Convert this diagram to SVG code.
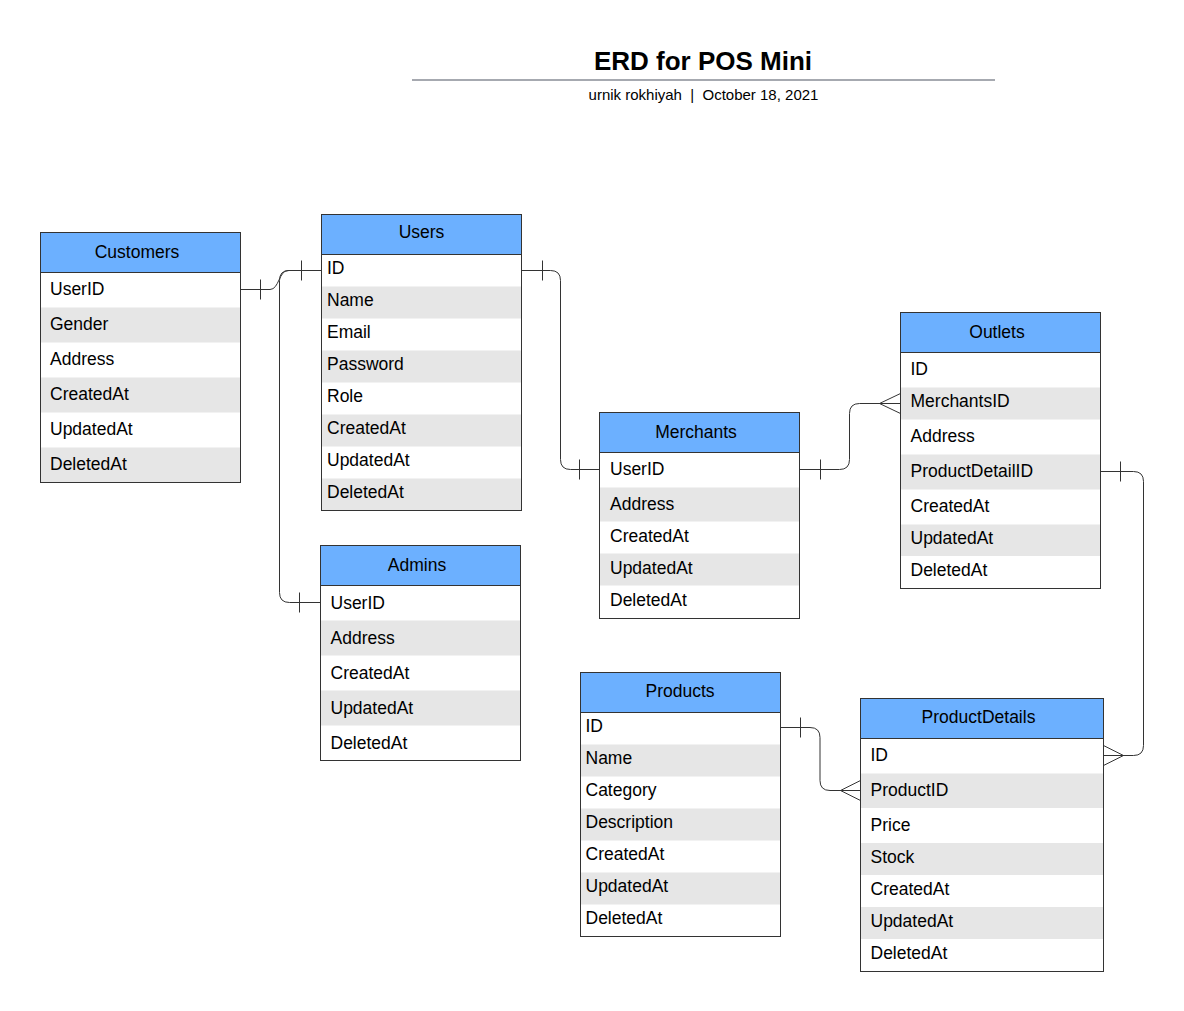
<svg xmlns="http://www.w3.org/2000/svg" width="1184" height="1011" viewBox="0 0 1184 1011">
<style>
  text { font-family: "Liberation Sans", Arial, sans-serif; fill: #000; }
  .t { font-size: 17.5px; }
  .h { font-size: 17.5px; text-anchor: middle; }
  .bg { fill: #ffffff; }
  .alt { fill: #e6e6e6; }
  .hdr { fill: #6cb0ff; stroke: #333333; stroke-width: 1; }
  .frame { fill: none; stroke: #333333; stroke-width: 1; }
  .conn path { fill: none; stroke: #333333; stroke-width: 1; }
</style>
<rect x="0" y="0" width="1184" height="1011" fill="#ffffff"/>

<g id="title">
  <text x="703" y="70" style="font-size:26px;font-weight:bold" text-anchor="middle">ERD for POS Mini</text>
  <line x1="412" y1="80" x2="995" y2="80" stroke="#a6a9b0" stroke-width="2"/>
  <text x="703.5" y="100" style="font-size:15px" text-anchor="middle">urnik rokhiyah &#160;|&#160; October 18, 2021</text>
</g>

<g id="customers">
  <rect class="bg" x="40.5" y="272.5" width="200" height="210"/>
  <rect class="alt" x="40.5" y="307.5" width="200" height="35"/>
  <rect class="alt" x="40.5" y="377.5" width="200" height="35"/>
  <rect class="alt" x="40.5" y="447.5" width="200" height="35"/>
  <rect class="hdr" x="40.5" y="232.5" width="200" height="40"/>
  <rect class="frame" x="40.5" y="232.5" width="200" height="250"/>
  <text class="h" x="137" y="257.5">Customers</text>
  <text class="t" x="50" y="295">UserID</text>
  <text class="t" x="50" y="330">Gender</text>
  <text class="t" x="50" y="365">Address</text>
  <text class="t" x="50" y="400">CreatedAt</text>
  <text class="t" x="50" y="435">UpdatedAt</text>
  <text class="t" x="50" y="470">DeletedAt</text>
</g>

<g id="users">
  <rect class="bg" x="321.5" y="254.5" width="200" height="256"/>
  <rect class="alt" x="321.5" y="286.5" width="200" height="32"/>
  <rect class="alt" x="321.5" y="350.5" width="200" height="32"/>
  <rect class="alt" x="321.5" y="414.5" width="200" height="32"/>
  <rect class="alt" x="321.5" y="478.5" width="200" height="32"/>
  <rect class="hdr" x="321.5" y="214.5" width="200" height="40"/>
  <rect class="frame" x="321.5" y="214.5" width="200" height="296"/>
  <text class="h" x="421.5" y="237.5">Users</text>
  <text class="t" x="327" y="273.5">ID</text>
  <text class="t" x="327" y="305.5">Name</text>
  <text class="t" x="327" y="337.5">Email</text>
  <text class="t" x="327" y="369.5">Password</text>
  <text class="t" x="327" y="401.5">Role</text>
  <text class="t" x="327" y="433.5">CreatedAt</text>
  <text class="t" x="327" y="465.5">UpdatedAt</text>
  <text class="t" x="327" y="497.5">DeletedAt</text>
</g>

<g id="admins">
  <rect class="bg" x="320.5" y="585.5" width="200" height="175"/>
  <rect class="alt" x="320.5" y="620.5" width="200" height="35"/>
  <rect class="alt" x="320.5" y="690.5" width="200" height="35"/>
  <rect class="hdr" x="320.5" y="545.5" width="200" height="40"/>
  <rect class="frame" x="320.5" y="545.5" width="200" height="215"/>
  <text class="h" x="417" y="570.5">Admins</text>
  <text class="t" x="330.5" y="608.5">UserID</text>
  <text class="t" x="330.5" y="643.5">Address</text>
  <text class="t" x="330.5" y="678.5">CreatedAt</text>
  <text class="t" x="330.5" y="713.5">UpdatedAt</text>
  <text class="t" x="330.5" y="748.5">DeletedAt</text>
</g>

<g id="merchants">
  <rect class="bg" x="599.5" y="452.5" width="200" height="166"/>
  <rect class="alt" x="599.5" y="487.5" width="200" height="34"/>
  <rect class="alt" x="599.5" y="553.5" width="200" height="32"/>
  <rect class="hdr" x="599.5" y="412.5" width="200" height="40"/>
  <rect class="frame" x="599.5" y="412.5" width="200" height="206"/>
  <text class="h" x="696" y="437.5">Merchants</text>
  <text class="t" x="610" y="475">UserID</text>
  <text class="t" x="610" y="509.5">Address</text>
  <text class="t" x="610" y="541.5">CreatedAt</text>
  <text class="t" x="610" y="573.5">UpdatedAt</text>
  <text class="t" x="610" y="605.5">DeletedAt</text>
</g>

<g id="outlets">
  <rect class="bg" x="900.5" y="352.5" width="200" height="236"/>
  <rect class="alt" x="900.5" y="387.5" width="200" height="32"/>
  <rect class="alt" x="900.5" y="454.5" width="200" height="35"/>
  <rect class="alt" x="900.5" y="524.5" width="200" height="31.5"/>
  <rect class="hdr" x="900.5" y="312.5" width="200" height="40"/>
  <rect class="frame" x="900.5" y="312.5" width="200" height="276"/>
  <text class="h" x="997" y="337.5">Outlets</text>
  <text class="t" x="910.5" y="375">ID</text>
  <text class="t" x="910.5" y="406.5">MerchantsID</text>
  <text class="t" x="910.5" y="441.5">Address</text>
  <text class="t" x="910.5" y="476.5">ProductDetailID</text>
  <text class="t" x="910.5" y="511.5">CreatedAt</text>
  <text class="t" x="910.5" y="543.5">UpdatedAt</text>
  <text class="t" x="910.5" y="575.5">DeletedAt</text>
</g>

<g id="products">
  <rect class="bg" x="580.5" y="712.5" width="200" height="224"/>
  <rect class="alt" x="580.5" y="744.5" width="200" height="32"/>
  <rect class="alt" x="580.5" y="808.5" width="200" height="32"/>
  <rect class="alt" x="580.5" y="872.5" width="200" height="32"/>
  <rect class="hdr" x="580.5" y="672.5" width="200" height="40"/>
  <rect class="frame" x="580.5" y="672.5" width="200" height="264"/>
  <text class="h" x="680" y="696.5">Products</text>
  <text class="t" x="585.5" y="731.5">ID</text>
  <text class="t" x="585.5" y="763.5">Name</text>
  <text class="t" x="585.5" y="795.5">Category</text>
  <text class="t" x="585.5" y="827.5">Description</text>
  <text class="t" x="585.5" y="859.5">CreatedAt</text>
  <text class="t" x="585.5" y="891.5">UpdatedAt</text>
  <text class="t" x="585.5" y="923.5">DeletedAt</text>
</g>

<g id="productdetails">
  <rect class="bg" x="860.5" y="738.5" width="243" height="233"/>
  <rect class="alt" x="860.5" y="773.5" width="243" height="34.5"/>
  <rect class="alt" x="860.5" y="843" width="243" height="32"/>
  <rect class="alt" x="860.5" y="907" width="243" height="32"/>
  <rect class="hdr" x="860.5" y="698.5" width="243" height="40"/>
  <rect class="frame" x="860.5" y="698.5" width="243" height="273"/>
  <text class="h" x="978.5" y="723">ProductDetails</text>
  <text class="t" x="870.5" y="760.5">ID</text>
  <text class="t" x="870.5" y="796">ProductID</text>
  <text class="t" x="870.5" y="830.5">Price</text>
  <text class="t" x="870.5" y="862.5">Stock</text>
  <text class="t" x="870.5" y="895">CreatedAt</text>
  <text class="t" x="870.5" y="926.5">UpdatedAt</text>
  <text class="t" x="870.5" y="959">DeletedAt</text>
</g>

<g id="connectors" class="conn">
  <!-- Customers.UserID - Users.ID -->
  <path d="M240.5,289.5 H270 C279,289.5 279,270.5 288,270.5 H321.5"/>
  <path d="M260.5,279.5 V299.5"/>
  <path d="M301.5,260.5 V280.5"/>
  <!-- Users.ID - Admins.UserID -->
  <path d="M321.5,270.5 H289 Q279.5,270.5 279.5,280.5 V592.5 Q279.5,602.5 289.5,602.5 H320.5"/>
  <path d="M299.5,592.5 V612.5"/>
  <!-- Users.ID - Merchants.UserID -->
  <path d="M521.5,270.5 H550.5 Q560.5,270.5 560.5,280.5 V459.5 Q560.5,469.5 570.5,469.5 H599.5"/>
  <path d="M542.5,260.5 V280.5"/>
  <path d="M579.5,459.5 V479.5"/>
  <!-- Merchants.UserID - Outlets.MerchantsID -->
  <path d="M799.5,469.5 H839.5 Q849.5,469.5 849.5,459.5 V413.5 Q849.5,403.5 859.5,403.5 H900.5"/>
  <path d="M820.5,459.5 V479.5"/>
  <path d="M900.5,393.5 L879.5,403.5 L900.5,413.5"/>
  <!-- Outlets.ProductDetailID - ProductDetails.ID -->
  <path d="M1100.5,471.5 H1133.5 Q1143.5,471.5 1143.5,481.5 V745.5 Q1143.5,755.5 1133.5,755.5 H1103.5"/>
  <path d="M1120.5,461.5 V481.5"/>
  <path d="M1103.5,745.5 L1123.5,755.5 L1103.5,765.5"/>
  <!-- Products.ID - ProductDetails.ProductID -->
  <path d="M780.5,727.5 H810 Q820,727.5 820,737.5 V780.5 Q820,790.5 830,790.5 H860.5"/>
  <path d="M800.5,717.5 V737.5"/>
  <path d="M860.5,780.5 L840.5,790.5 L860.5,800.5"/>
</g>
</svg>
